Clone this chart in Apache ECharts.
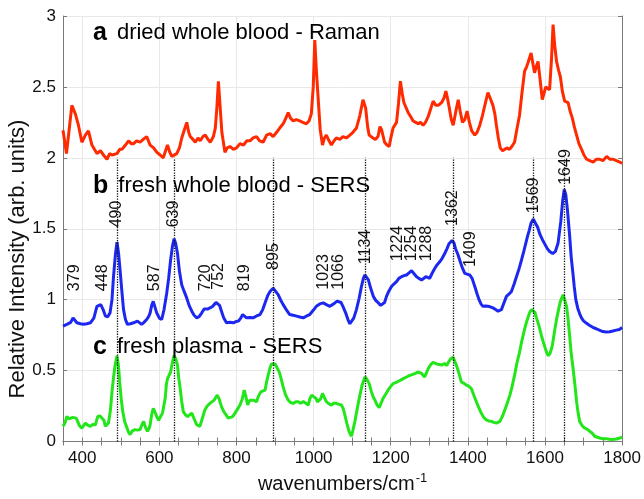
<!DOCTYPE html>
<html>
<head>
<meta charset="utf-8">
<script src="https://cdn.jsdelivr.net/npm/echarts@6/dist/echarts.min.js"></script>
<style>
  html, body { margin: 0; padding: 0; background: #fff; }
  #chart { width: 644px; height: 499px; }
</style>
</head>
<body>
<div id="chart"></div>
<script>
// a: dried whole blood - Raman (offset +2)
const ramanX = [350, 359, 366, 373, 382, 390, 399, 408, 416, 425, 438, 447, 455, 464, 471, 477, 490, 497, 503, 512, 520, 527, 533, 541, 550, 558, 567, 576, 585, 593, 602, 610, 616, 621, 627, 632, 645, 652, 658, 665, 671, 676, 680, 687, 693, 700, 706, 713, 719, 726, 732, 740, 745, 749, 753, 757, 762, 770, 776, 783, 792, 800, 809, 818, 827, 835, 843, 852, 860, 869, 878, 887, 895, 904, 912, 921, 928, 934, 940, 947, 955, 964, 972, 981, 988, 994, 999, 1003, 1007, 1012, 1017, 1023, 1028, 1033, 1040, 1046, 1053, 1059, 1068, 1076, 1085, 1094, 1102, 1111, 1120, 1128, 1135, 1140, 1144, 1154, 1160, 1167, 1172, 1176, 1184, 1190, 1196, 1201, 1206, 1215, 1220, 1225, 1230, 1234, 1245, 1252, 1258, 1265, 1271, 1277, 1284, 1290, 1297, 1304, 1310, 1317, 1323, 1332, 1338, 1343, 1348, 1352, 1357, 1362, 1369, 1375, 1380, 1386, 1392, 1398, 1404, 1410, 1418, 1424, 1431, 1438, 1444, 1452, 1458, 1465, 1470, 1474, 1479, 1484, 1490, 1495, 1501, 1508, 1514, 1521, 1527, 1534, 1540, 1547, 1552, 1556, 1564, 1569, 1573, 1577, 1582, 1587, 1593, 1598, 1602, 1607, 1612, 1617, 1621, 1625, 1630, 1635, 1640, 1645, 1651, 1655, 1660, 1665, 1671, 1676, 1682, 1688, 1695, 1701, 1708, 1716, 1725, 1733, 1742, 1750, 1760, 1768, 1777, 1785, 1794, 1800];
const ramanY = [2.195, 2.03, 2.2, 2.37, 2.31, 2.23, 2.11, 2.16, 2.19, 2.09, 2.03, 2.05, 2.02, 1.99, 2.03, 2.02, 2.03, 2.06, 2.06, 2.09, 2.12, 2.1, 2.1, 2.12, 2.11, 2.13, 2.15, 2.09, 2.07, 2.04, 2.02, 2.0, 2.05, 2.09, 2.04, 2.01, 2.03, 2.07, 2.14, 2.2, 2.25, 2.18, 2.15, 2.13, 2.11, 2.14, 2.12, 2.15, 2.16, 2.13, 2.11, 2.15, 2.21, 2.35, 2.54, 2.38, 2.18, 2.04, 2.07, 2.08, 2.06, 2.07, 2.1, 2.09, 2.12, 2.12, 2.14, 2.15, 2.12, 2.11, 2.16, 2.17, 2.15, 2.18, 2.21, 2.24, 2.28, 2.32, 2.28, 2.26, 2.27, 2.26, 2.25, 2.24, 2.26, 2.31, 2.5, 2.83, 2.62, 2.41, 2.2, 2.09, 2.14, 2.16, 2.12, 2.09, 2.12, 2.14, 2.13, 2.15, 2.14, 2.16, 2.18, 2.21, 2.3, 2.41, 2.35, 2.22, 2.16, 2.14, 2.13, 2.15, 2.22, 2.2, 2.11, 2.09, 2.08, 2.15, 2.21, 2.25, 2.38, 2.54, 2.45, 2.39, 2.32, 2.29, 2.26, 2.25, 2.24, 2.25, 2.23, 2.25, 2.29, 2.35, 2.4, 2.37, 2.37, 2.39, 2.42, 2.47, 2.41, 2.35, 2.27, 2.23, 2.33, 2.41, 2.33, 2.25, 2.27, 2.33, 2.25, 2.19, 2.16, 2.18, 2.23, 2.3, 2.37, 2.46, 2.42, 2.37, 2.31, 2.23, 2.14, 2.07, 2.05, 2.04, 2.07, 2.06, 2.08, 2.11, 2.2, 2.3, 2.45, 2.61, 2.64, 2.67, 2.74, 2.66, 2.6, 2.64, 2.68, 2.56, 2.41, 2.46, 2.5, 2.49, 2.48, 2.7, 2.94, 2.8, 2.68, 2.62, 2.57, 2.47, 2.4, 2.41, 2.39, 2.33, 2.28, 2.22, 2.16, 2.1, 2.06, 2.02, 1.99, 1.98, 1.97, 1.99, 1.99, 1.98, 2.01, 1.99, 1.99, 1.98, 1.97, 1.96];

// b: fresh whole blood - SERS
const bloodX = [350, 360, 370, 376, 381, 386, 395, 403, 412, 421, 430, 438, 448, 454, 460, 466, 472, 477, 481, 486, 490, 494, 498, 503, 507, 512, 517, 525, 533, 538, 543, 548, 554, 560, 567, 572, 576, 580, 584, 588, 593, 600, 606, 612, 619, 624, 629, 634, 638, 642, 647, 652, 658, 664, 671, 677, 684, 690, 697, 703, 710, 716, 721, 726, 731, 737, 742, 747, 751, 756, 761, 767, 774, 783, 792, 798, 805, 811, 816, 821, 826, 835, 843, 852, 861, 868, 874, 881, 887, 895, 901, 908, 914, 921, 929, 938, 947, 956, 964, 973, 982, 990, 999, 1007, 1016, 1025, 1033, 1042, 1049, 1055, 1061, 1066, 1071, 1076, 1083, 1089, 1094, 1098, 1104, 1111, 1118, 1124, 1129, 1133, 1138, 1142, 1148, 1155, 1161, 1168, 1174, 1179, 1184, 1189, 1195, 1202, 1208, 1215, 1221, 1228, 1235, 1241, 1248, 1254, 1260, 1267, 1273, 1280, 1285, 1291, 1296, 1301, 1308, 1314, 1320, 1327, 1333, 1340, 1346, 1351, 1359, 1364, 1368, 1374, 1379, 1385, 1392, 1398, 1405, 1411, 1418, 1424, 1429, 1434, 1439, 1446, 1452, 1458, 1465, 1472, 1478, 1483, 1487, 1494, 1500, 1507, 1513, 1520, 1526, 1533, 1539, 1545, 1551, 1555, 1559, 1564, 1570, 1575, 1581, 1587, 1594, 1600, 1606, 1612, 1620, 1627, 1634, 1641, 1646, 1650, 1654, 1658, 1664, 1668, 1672, 1676, 1680, 1685, 1690, 1695, 1700, 1707, 1715, 1724, 1733, 1741, 1750, 1759, 1768, 1776, 1785, 1793, 1800];
const bloodY = [0.814, 0.826, 0.84, 0.872, 0.86, 0.837, 0.83, 0.826, 0.83, 0.837, 0.87, 0.953, 0.965, 0.93, 0.884, 0.88, 0.907, 1.0, 1.162, 1.32, 1.406, 1.33, 1.21, 1.05, 0.93, 0.86, 0.826, 0.83, 0.837, 0.83, 0.849, 0.84, 0.826, 0.84, 0.86, 0.88, 0.907, 0.96, 0.988, 0.975, 0.907, 0.87, 0.86, 0.93, 1.046, 1.15, 1.278, 1.38, 1.429, 1.4, 1.325, 1.2, 1.104, 1.06, 1.011, 0.96, 0.919, 0.89, 0.872, 0.88, 0.907, 0.935, 0.942, 0.935, 0.93, 0.95, 0.965, 0.98, 0.988, 0.96, 0.919, 0.87, 0.837, 0.84, 0.837, 0.845, 0.849, 0.87, 0.895, 0.885, 0.872, 0.875, 0.872, 0.885, 0.895, 0.93, 0.977, 1.03, 1.058, 1.081, 1.06, 1.035, 1.0, 0.965, 0.93, 0.895, 0.89, 0.884, 0.878, 0.872, 0.885, 0.895, 0.925, 0.953, 0.97, 0.977, 0.965, 0.953, 0.965, 0.977, 0.99, 1.0, 0.98, 0.953, 0.907, 0.86, 0.83, 0.826, 0.87, 0.93, 1.01, 1.093, 1.15, 1.174, 1.16, 1.139, 1.08, 1.023, 0.995, 0.977, 0.96, 0.953, 0.98, 1.023, 1.06, 1.093, 1.11, 1.127, 1.15, 1.162, 1.17, 1.174, 1.19, 1.204, 1.185, 1.162, 1.15, 1.139, 1.15, 1.162, 1.155, 1.151, 1.19, 1.22, 1.245, 1.267, 1.29, 1.325, 1.36, 1.394, 1.417, 1.4, 1.359, 1.32, 1.278, 1.23, 1.185, 1.18, 1.174, 1.15, 1.093, 1.04, 1.0, 0.97, 0.953, 0.955, 0.953, 0.95, 0.942, 0.93, 0.919, 0.915, 0.93, 0.98, 1.023, 1.04, 1.058, 1.11, 1.162, 1.22, 1.278, 1.34, 1.406, 1.45, 1.487, 1.54, 1.568, 1.54, 1.51, 1.46, 1.42, 1.39, 1.36, 1.34, 1.325, 1.34, 1.4, 1.55, 1.7, 1.777, 1.74, 1.64, 1.45, 1.3, 1.2, 1.09, 1.0, 0.94, 0.9, 0.87, 0.85, 0.835, 0.82, 0.805, 0.795, 0.785, 0.775, 0.772, 0.774, 0.779, 0.785, 0.79, 0.803];

// c: fresh plasma - SERS
const plasmaX = [350, 355, 360, 366, 371, 375, 379, 384, 388, 393, 399, 403, 408, 414, 421, 427, 434, 440, 446, 451, 456, 460, 464, 468, 473, 477, 481, 485, 490, 494, 497, 501, 505, 510, 516, 520, 524, 530, 537, 543, 550, 555, 559, 564, 569, 573, 576, 580, 584, 588, 593, 598, 602, 608, 615, 618, 621, 625, 629, 634, 638, 643, 647, 650, 654, 658, 662, 667, 673, 678, 684, 690, 697, 701, 705, 711, 718, 724, 731, 736, 742, 746, 750, 755, 761, 767, 773, 778, 783, 790, 796, 803, 809, 815, 820, 824, 829, 834, 839, 845, 852, 857, 863, 868, 874, 878, 882, 887, 891, 896, 900, 905, 911, 916, 921, 927, 934, 940, 947, 954, 960, 966, 973, 980, 986, 990, 995, 1000, 1006, 1010, 1014, 1018, 1023, 1028, 1033, 1040, 1046, 1052, 1059, 1066, 1072, 1077, 1081, 1086, 1092, 1098, 1102, 1107, 1113, 1120, 1126, 1133, 1138, 1144, 1150, 1155, 1159, 1165, 1170, 1175, 1180, 1186, 1193, 1199, 1206, 1213, 1220, 1227, 1234, 1241, 1248, 1254, 1258, 1264, 1270, 1275, 1280, 1285, 1288, 1292, 1297, 1303, 1310, 1316, 1322, 1327, 1333, 1339, 1345, 1350, 1355, 1362, 1367, 1372, 1378, 1383, 1390, 1396, 1402, 1409, 1415, 1422, 1428, 1435, 1441, 1448, 1454, 1461, 1467, 1474, 1479, 1483, 1490, 1496, 1502, 1509, 1515, 1521, 1527, 1534, 1540, 1547, 1553, 1560, 1565, 1569, 1574, 1578, 1585, 1591, 1598, 1604, 1608, 1613, 1619, 1625, 1630, 1636, 1640, 1647, 1651, 1656, 1660, 1664, 1668, 1673, 1678, 1682, 1686, 1690, 1697, 1703, 1710, 1716, 1722, 1729, 1736, 1742, 1750, 1759, 1767, 1776, 1785, 1794, 1800];
const plasmaY = [0.107, 0.13, 0.176, 0.16, 0.165, 0.17, 0.176, 0.165, 0.142, 0.11, 0.095, 0.11, 0.13, 0.115, 0.107, 0.12, 0.118, 0.176, 0.18, 0.183, 0.15, 0.107, 0.1, 0.13, 0.22, 0.35, 0.45, 0.536, 0.605, 0.53, 0.42, 0.3, 0.211, 0.14, 0.095, 0.065, 0.049, 0.075, 0.084, 0.08, 0.084, 0.12, 0.142, 0.1, 0.072, 0.09, 0.118, 0.19, 0.234, 0.21, 0.176, 0.15, 0.142, 0.2, 0.304, 0.4, 0.443, 0.44, 0.49, 0.56, 0.605, 0.58, 0.536, 0.45, 0.373, 0.28, 0.211, 0.19, 0.176, 0.19, 0.2, 0.16, 0.118, 0.11, 0.107, 0.16, 0.223, 0.25, 0.269, 0.275, 0.292, 0.31, 0.327, 0.3, 0.246, 0.21, 0.188, 0.165, 0.153, 0.175, 0.2, 0.23, 0.257, 0.3, 0.362, 0.32, 0.257, 0.29, 0.304, 0.29, 0.281, 0.32, 0.35, 0.355, 0.362, 0.42, 0.466, 0.52, 0.547, 0.55, 0.547, 0.52, 0.489, 0.44, 0.385, 0.33, 0.292, 0.275, 0.269, 0.28, 0.281, 0.27, 0.281, 0.27, 0.257, 0.3, 0.327, 0.32, 0.304, 0.28, 0.269, 0.3, 0.339, 0.31, 0.281, 0.265, 0.257, 0.27, 0.269, 0.262, 0.257, 0.23, 0.188, 0.13, 0.07, 0.037, 0.08, 0.142, 0.23, 0.327, 0.4, 0.455, 0.44, 0.408, 0.35, 0.31, 0.292, 0.255, 0.239, 0.27, 0.304, 0.33, 0.362, 0.385, 0.408, 0.415, 0.425, 0.435, 0.445, 0.455, 0.465, 0.47, 0.478, 0.48, 0.49, 0.501, 0.48, 0.47, 0.455, 0.48, 0.513, 0.54, 0.559, 0.55, 0.545, 0.547, 0.54, 0.55, 0.536, 0.56, 0.582, 0.594, 0.56, 0.524, 0.47, 0.42, 0.41, 0.397, 0.39, 0.373, 0.33, 0.281, 0.24, 0.2, 0.17, 0.153, 0.145, 0.142, 0.135, 0.13, 0.14, 0.142, 0.18, 0.223, 0.27, 0.327, 0.39, 0.466, 0.55, 0.629, 0.71, 0.791, 0.85, 0.907, 0.93, 0.942, 0.91, 0.872, 0.81, 0.745, 0.68, 0.63, 0.605, 0.62, 0.675, 0.78, 0.861, 0.94, 0.988, 1.035, 1.0, 0.953, 0.86, 0.745, 0.62, 0.513, 0.39, 0.281, 0.2, 0.142, 0.11, 0.095, 0.085, 0.072, 0.06, 0.037, 0.03, 0.025, 0.02, 0.019, 0.016, 0.014, 0.018, 0.025, 0.03];

// dotted marker lines (drawn from 0 up to 2)
const markerLines = [490, 639, 895, 1134, 1362, 1569, 1649];
const markerTop = 2;

// peak labels: text, anchor x, anchor y (bottom of the rotated text)
const peakNames = ['379', '448', '490', '587', '639', '720', '752', '819', '895', '1023', '1066', '1134', '1224', '1254', '1288', '1362', '1409', '1569', '1649'];
const peakNameX = [380, 452, 489, 587, 638, 721, 753, 822, 896, 1026, 1066, 1135, 1218, 1253, 1292, 1360, 1408, 1570, 1654];
const peakNameY = [1.06, 1.06, 1.51, 1.06, 1.51, 1.06, 1.07, 1.06, 1.21, 1.07, 1.07, 1.25, 1.27, 1.27, 1.27, 1.52, 1.23, 1.61, 1.81];

const xTickValues = [400, 600, 800, 1000, 1200, 1400, 1600, 1800];

const FONT = '"Liberation Sans", Arial, Helvetica, sans-serif';
const AXIS_COLOR = '#7a7a7a';
const GRID_COLOR = '#e8e8e8';

const toPairs = (xs, ys) => xs.map((x, i) => [x, ys[i]]);

const chart = echarts.init(document.getElementById('chart'));

const titleRich = {
  b: { fontFamily: FONT, fontSize: 25, fontWeight: 'bold', color: '#000', padding: [0, 10, 0, 0], lineHeight: 28 },
  t: { fontFamily: FONT, fontSize: 22, color: '#111', lineHeight: 28 }
};

function panelTitle(x, y, letter, text) {
  return {
    type: 'text',
    x: x,
    y: y,
    z: 100,
    style: {
      text: '{b|' + letter + '}{t|' + text + '}',
      rich: titleRich,
      textAlign: 'left',
      textVerticalAlign: 'middle'
    }
  };
}

const lineBase = {
  type: 'line',
  showSymbol: false,
  symbol: 'none',
  animation: false,
  xAxisIndex: 0,
  yAxisIndex: 0
};

chart.setOption({
  animation: false,
  backgroundColor: '#fff',
  grid: { left: 63, right: 21, top: 16, bottom: 52 },
  xAxis: [
    {
      type: 'value',
      min: 350,
      max: 1800,
      interval: 50,
      position: 'bottom',
      axisLine: { show: true, lineStyle: { color: AXIS_COLOR, width: 1 } },
      axisTick: { show: true, inside: true, length: 4, lineStyle: { color: AXIS_COLOR } },
      axisLabel: {
        customValues: xTickValues,
        formatter: (v) => String(v),
        color: '#111',
        fontSize: 17,
        fontFamily: FONT,
        margin: 8
      },
      splitLine: { show: false },
      name: '{m|wavenumbers/cm}{s|-1}',
      nameLocation: 'middle',
      nameGap: 30,
      nameTextStyle: {
        color: '#111',
        rich: {
          m: { fontFamily: FONT, fontSize: 20, color: '#111' },
          s: { fontFamily: FONT, fontSize: 13, color: '#111', padding: [0, 0, 12, 1] }
        }
      }
    },
    {
      type: 'value',
      min: 350,
      max: 1800,
      interval: 50,
      position: 'top',
      axisLine: { show: true, lineStyle: { color: AXIS_COLOR, width: 1 } },
      axisTick: { show: true, inside: true, length: 4, lineStyle: { color: AXIS_COLOR } },
      axisLabel: { show: false },
      splitLine: { show: false }
    },
    {
      // only for the vertical grid lines at the labelled values
      type: 'value',
      min: 350,
      max: 1800,
      position: 'bottom',
      axisLine: { show: false },
      axisTick: { show: false, customValues: xTickValues },
      axisLabel: { show: false },
      splitLine: { show: true, lineStyle: { color: GRID_COLOR, width: 1 } }
    }
  ],
  yAxis: [
    {
      type: 'value',
      min: 0,
      max: 3,
      interval: 0.5,
      position: 'left',
      axisLine: { show: true, lineStyle: { color: AXIS_COLOR, width: 1 } },
      axisTick: { show: true, inside: true, length: 4, lineStyle: { color: AXIS_COLOR } },
      axisLabel: { color: '#111', fontSize: 17, fontFamily: FONT, margin: 7 },
      splitLine: { show: true, lineStyle: { color: GRID_COLOR, width: 1 } }
    },
    {
      type: 'value',
      min: 0,
      max: 3,
      interval: 0.5,
      position: 'right',
      axisLine: { show: true, lineStyle: { color: AXIS_COLOR, width: 1 } },
      axisTick: { show: true, inside: true, length: 4, lineStyle: { color: AXIS_COLOR } },
      axisLabel: { show: false },
      splitLine: { show: false }
    }
  ],
  graphic: [
    panelTitle(93, 33, 'a', 'dried whole blood - Raman'),
    panelTitle(93, 186, 'b', 'fresh whole blood - SERS'),
    panelTitle(93, 347, 'c', 'fresh plasma - SERS'),
    {
      type: 'text',
      x: 18,
      y: 259,
      rotation: Math.PI / 2,
      style: {
        text: 'Relative Intensity (arb. units)',
        font: '22px ' + FONT,
        fill: '#111',
        textAlign: 'center',
        textVerticalAlign: 'middle'
      }
    }
  ],
  series: [
    Object.assign({}, lineBase, {
      name: 'raman',
      data: toPairs(ramanX, ramanY),
      lineStyle: { color: '#ff2a00', width: 3 },
      z: 3
    }),
    Object.assign({}, lineBase, {
      name: 'blood',
      data: toPairs(bloodX, bloodY),
      lineStyle: { color: '#1c28f0', width: 3 },
      z: 3
    }),
    Object.assign({}, lineBase, {
      name: 'plasma',
      data: toPairs(plasmaX, plasmaY),
      lineStyle: { color: '#22e61a', width: 3 },
      z: 4,
      markLine: {
        silent: true,
        symbol: ['none', 'none'],
        label: { show: false },
        lineStyle: { color: '#111', type: 'dotted', width: 1.3 },
        z: 10,
        data: markerLines.map((v) => [{ coord: [v, 0] }, { coord: [v, markerTop] }])
      }
    }),
    {
      // rotated peak labels
      type: 'custom',
      name: 'peaks',
      xAxisIndex: 0,
      yAxisIndex: 0,
      z: 20,
      animation: false,
      silent: true,
      data: peakNameX.map((x, i) => [x, peakNameY[i]]),
      renderItem: function (params, api) {
        const p = api.coord([api.value(0), api.value(1)]);
        return {
          type: 'text',
          x: p[0],
          y: p[1],
          rotation: Math.PI / 2,
          style: {
            text: peakNames[params.dataIndex],
            font: '16px ' + FONT,
            fill: '#111',
            textAlign: 'left',
            textVerticalAlign: 'middle'
          }
        };
      }
    }
  ]
});
</script>
</body>
</html>
